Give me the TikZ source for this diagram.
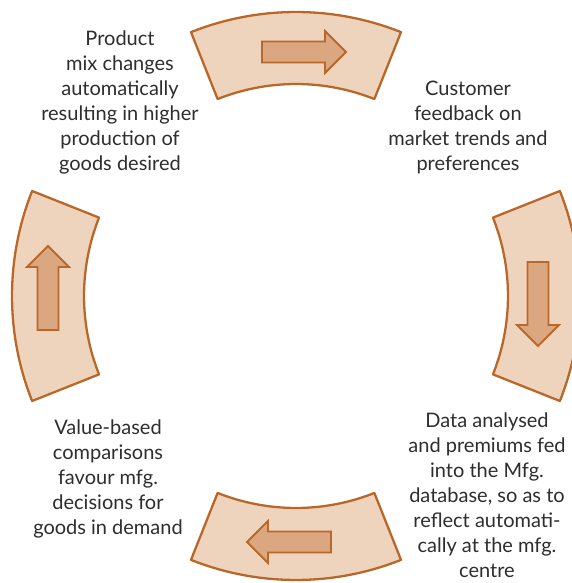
\documentclass[tikz,border=0pt]{standalone}
\usepackage{fontspec}
\setmainfont{Lato}
\definecolor{segfill}{HTML}{EED4BC}
\definecolor{segdraw}{HTML}{B9682A}
\definecolor{arrfill}{HTML}{DAA780}
\definecolor{txt}{HTML}{2E2E2E}
\tikzset{
  x=1pt, y=1pt,
  segment/.style={fill=segfill, draw=segdraw, line width=2.3pt, line join=round},
  blockarrow/.style={fill=arrfill, draw=segdraw, line width=1.8pt, line join=miter},
  label/.style={align=center, text=txt, font=\fontsize{20}{25}\selectfont, inner sep=0pt},
  pics/fatarrow/.style={code={
    \draw[blockarrow] (-42,-10.5) -- (21,-10.5) -- (21,-21) -- (42,0) -- (21,21) -- (21,10.5) -- (-42,10.5) -- cycle;
  }}
}
\begin{document}
\begin{tikzpicture}
\useasboundingbox (-296,-287) rectangle (276,296);
\clip (-296,-287) rectangle (276,296);
\fill[white] (-296,-287) rectangle (276,296);
\foreach \a in {90,0,270,180}{
  \draw[segment] (\a-21.7:212) arc[start angle=\a-21.7, end angle=\a+21.7, radius=212]
     -- (\a+21.7:284) arc[start angle=\a+21.7, end angle=\a-21.7, radius=284] -- cycle;
}
\pic at (8,244) {fatarrow};
\pic[rotate=-90] at (242,-8) {fatarrow};
\pic[rotate=180] at (-7,-246) {fatarrow};
\pic[rotate=90] at (-248,8) {fatarrow};
\node[label] (tl) at (-176,194) {Product\\mix changes\\automatically\\resulting in higher\\production of\\goods desired};
\node[label] (tr) at (172,169) {Customer\\feedback on\\market trends and\\preferences};
\node[label] (bl) at (-188,-183) {Value-based\\comparisons\\favour mfg.\\decisions for\\goods in demand};
\node[label] (br) at (191,-199) {Data analysed\\and premiums fed\\into the Mfg.\\database, so as to\\reflect automati-\\cally at the mfg.\\centre};
\end{tikzpicture}
\end{document}
